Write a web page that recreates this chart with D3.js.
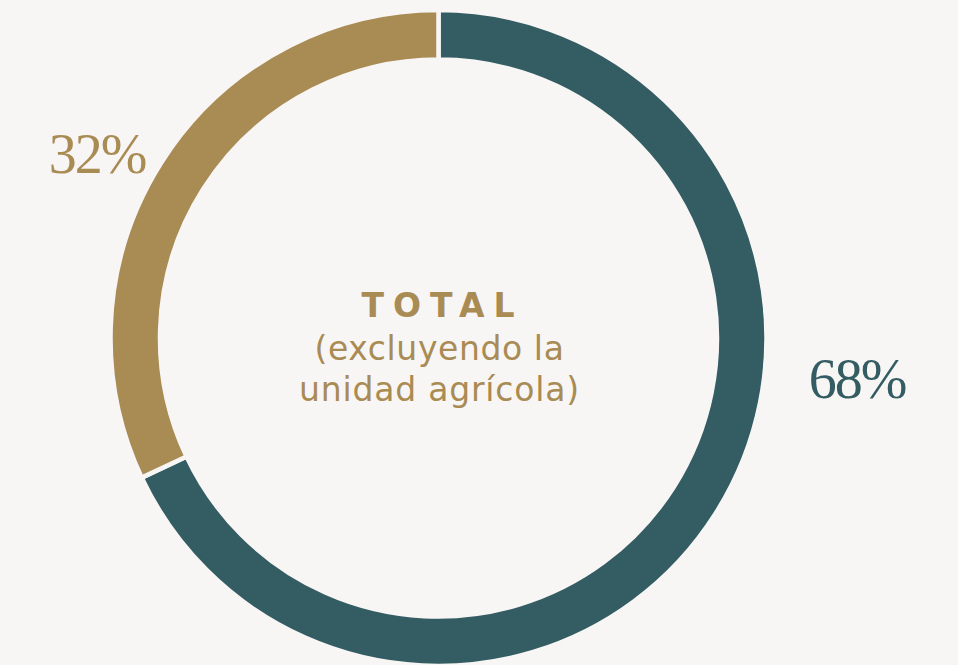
<!DOCTYPE html>
<html>
<head>
<meta charset="utf-8">
<script src="https://cdn.jsdelivr.net/npm/d3@7"></script>
<style>
  html, body { margin: 0; padding: 0; background: #f8f6f5; }
  svg { display: block; }
</style>
</head>
<body>
<svg id="chart" width="958" height="665"></svg>
<script>
// Share of total, excluding the agricultural unit
const categories = ["Grupo A", "Grupo B"];
const values = [68, 32];
const labels = ["68%", "32%"];
const colors = ["#335c63", "#a98b54"];
const titleLines = ["TOTAL", "(excluyendo la", "unidad agrícola)"];

const W = 958, H = 665;
const cx = 438.5, cy = 338;
const outerR = 328, innerR = 278.5;

const svg = d3.select("#chart");
svg.append("rect").attr("width", W).attr("height", H).attr("fill", "#f8f6f5");

const g = svg.append("g").attr("transform", `translate(${cx},${cy})`);

const pie = d3.pie().sort(null).value(d => d.value);
const arc = d3.arc().innerRadius(innerR).outerRadius(outerR);

const data = categories.map((c, i) => ({ name: c, value: values[i], color: colors[i], label: labels[i] }));
const arcs = pie(data);

g.selectAll("path.slice")
  .data(arcs)
  .join("path")
  .attr("class", "slice")
  .attr("d", arc)
  .attr("fill", d => d.data.color)
  .attr("stroke", "#f8f6f5")
  .attr("stroke-width", 4.5)
  .attr("stroke-linejoin", "miter");

// Percentage labels beside the ring
const labelPos = [
  { x: 857, y: 398 },
  { x: 97, y: 173 }
];
svg.selectAll("text.pct")
  .data(arcs)
  .join("text")
  .attr("class", "pct")
  .attr("x", (d, i) => labelPos[i].x)
  .attr("y", (d, i) => labelPos[i].y)
  .attr("text-anchor", "middle")
  .attr("font-family", "'Liberation Serif', 'DejaVu Serif', serif")
  .attr("font-size", 56)
  .attr("letter-spacing", -2)
  .attr("fill", d => d.data.color)
  .text(d => d.data.label);

// Centre caption
const caption = svg.append("g").attr("fill", "#a98b54").attr("text-anchor", "middle");
caption.append("text")
  .attr("x", cx + 4).attr("y", 317)
  .attr("font-family", "'DejaVu Sans', sans-serif")
  .attr("font-weight", "bold")
  .attr("font-size", 33)
  .attr("letter-spacing", 9)
  .text(titleLines[0]);
caption.append("text")
  .attr("x", cx + 1).attr("y", 360)
  .attr("font-family", "'DejaVu Sans', sans-serif")
  .attr("font-size", 33)
  .attr("letter-spacing", 0.6)
  .text(titleLines[1]);
caption.append("text")
  .attr("x", cx + 1).attr("y", 401)
  .attr("font-family", "'DejaVu Sans', sans-serif")
  .attr("font-size", 33)
  .attr("letter-spacing", 0.8)
  .text(titleLines[2]);
</script>
</body>
</html>
